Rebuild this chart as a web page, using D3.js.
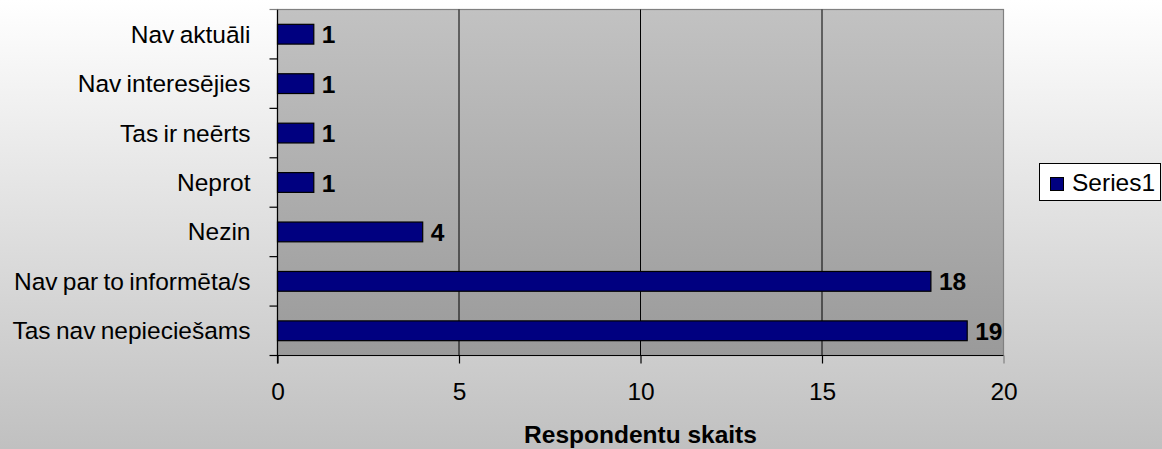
<!DOCTYPE html>
<html><head><meta charset="utf-8">
<script src="https://cdn.jsdelivr.net/npm/d3@7/dist/d3.min.js"></script>
<style>body{margin:0;padding:0;overflow:hidden}svg{display:block}</style>
</head><body><svg id="c" width="1162" height="449"></svg>
<script>
const categories = ["Nav aktuāli","Nav interesējies","Tas ir neērts","Neprot","Nezin","Nav par to informēta/s","Tas nav nepieciešams"];
const values = [1,1,1,1,4,18,19];
const xTicks = [0,5,10,15,20];
const seriesName = "Series1";
const axisTitle = "Respondentu skaits";

const W=1162,H=449;
const FONT="Liberation Sans, Arial, sans-serif";
const FS=24.5;
const m={left:277.5,top:9.5,right:1003.5,bottom:355.5};
const svg=d3.select("#c");
const defs=svg.append("defs");
const bg=defs.append("linearGradient").attr("id","bg").attr("x1",0).attr("y1",0).attr("x2",0).attr("y2",1);
bg.append("stop").attr("offset","0%").attr("stop-color","#ffffff");
bg.append("stop").attr("offset","100%").attr("stop-color","#c0c0c0");
const pg=defs.append("linearGradient").attr("id","pg").attr("x1",0).attr("y1",0).attr("x2",0).attr("y2",1);
pg.append("stop").attr("offset","0%").attr("stop-color","#c2c2c2");
pg.append("stop").attr("offset","100%").attr("stop-color","#9a9a9a");
svg.append("rect").attr("width",W).attr("height",H).attr("fill","url(#bg)");

const x=d3.scaleLinear().domain([0,20]).range([m.left,m.right]);
const y=d3.scaleBand().domain(categories).range([m.top,m.bottom]).paddingInner(0).paddingOuter(0);

svg.append("rect").attr("x",m.left).attr("y",m.top).attr("width",m.right-m.left).attr("height",m.bottom-m.top)
  .attr("fill","url(#pg)").attr("stroke","#808080").attr("stroke-width",1.2);

// gridlines
svg.append("g").selectAll("line").data(xTicks.filter(d=>d>0&&d<20)).join("line")
  .attr("x1",d=>x(d)).attr("x2",d=>x(d)).attr("y1",m.top).attr("y2",m.bottom)
  .attr("stroke","#000").attr("stroke-width",1);

// bars
const bh=y.bandwidth()*0.4;
svg.append("g").selectAll("rect").data(values).join("rect")
  .attr("x",x(0)).attr("y",(d,i)=>y(categories[i])+(y.bandwidth()-bh)/2)
  .attr("width",d=>x(d)-x(0)).attr("height",bh)
  .attr("fill","#000080").attr("stroke","#000").attr("stroke-width",1.2);

// data labels
svg.append("g").selectAll("text").data(values).join("text")
  .attr("x",d=>x(d)+8).attr("y",(d,i)=>y(categories[i])+y.bandwidth()/2+9)
  .attr("font-family",FONT).attr("font-size",FS).attr("font-weight","bold")
  .attr("fill","#000").text(d=>d);

// x axis
const xa=svg.append("g").attr("transform",`translate(0,${m.bottom})`)
  .call(d3.axisBottom(x).tickValues(xTicks).tickSize(8).tickPadding(19));
xa.select(".domain").attr("stroke","#000").attr("stroke-width",1.2).attr("d",`M${m.left},0H${m.right}`);
xa.selectAll(".tick line").attr("stroke","#000").attr("stroke-width",1.2);
xa.selectAll(".tick:last-of-type line").attr("stroke","#808080");
xa.selectAll("text").attr("font-family",FONT).attr("font-size",FS).attr("fill","#000");

// y axis
const yEdges=categories.map(c=>y(c)).concat([m.bottom]);
svg.append("line").attr("x1",m.left).attr("x2",m.left).attr("y1",m.top).attr("y2",m.bottom+8).attr("stroke","#000").attr("stroke-width",1.2);
svg.append("g").selectAll("line").data(yEdges).join("line")
  .attr("x1",m.left-8).attr("x2",m.left).attr("y1",d=>d).attr("y2",d=>d)
  .attr("stroke",(d,i)=>i===0?"#808080":"#000").attr("stroke-width",1.2);
svg.append("g").selectAll("text").data(categories).join("text")
  .attr("x",m.left-27).attr("y",d=>y(d)+y.bandwidth()/2+8.5).attr("text-anchor","end")
  .attr("font-family",FONT).attr("font-size",FS).attr("word-spacing",-1.5).attr("fill","#000")
  .text(d=>d);

// axis title
svg.append("text").attr("x",(m.left+m.right)/2).attr("y",443).attr("text-anchor","middle")
  .attr("font-family",FONT).attr("font-size",FS).attr("font-weight","bold")
  .text(axisTitle);

// legend
const lg=svg.append("g");
lg.append("rect").attr("x",1039.5).attr("y",163.5).attr("width",121).attr("height",37).attr("fill","#fff").attr("stroke","#000").attr("stroke-width",1);
lg.append("rect").attr("x",1050.5).attr("y",177.5).attr("width",13).attr("height",13).attr("fill","#000080").attr("stroke","#000").attr("stroke-width",1);
lg.append("text").attr("x",1072).attr("y",191).attr("font-family",FONT).attr("font-size",FS).text(seriesName);
</script></body></html>
